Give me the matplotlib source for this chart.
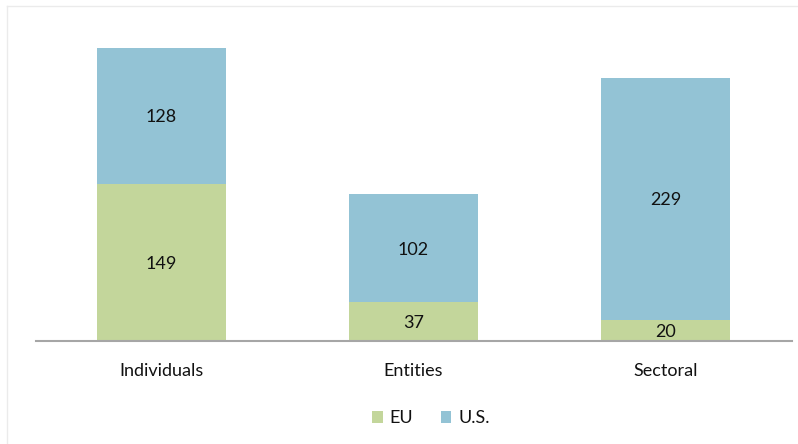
import matplotlib
matplotlib.use('Agg')
import matplotlib.pyplot as plt
import numpy as np

categories = ["Individuals", "Entities", "Sectoral"]
eu_values = [149, 37, 20]
us_values = [128, 102, 229]

green = "#C3D69B"
blue = "#93C3D5"
txt = "#111111"

plt.rcParams['font.family'] = ['Lato', 'DejaVu Sans']

fig = plt.figure(figsize=(7.98, 4.44), dpi=100)
ax = fig.add_axes([0.0445, 0.232, 0.9475, 0.714])

x = np.arange(len(categories))
eu = np.array(eu_values)
us = np.array(us_values)

b1 = ax.bar(x, eu, width=0.512, color=green, label="EU")
b2 = ax.bar(x, us, width=0.512, bottom=eu, color=blue, label="U.S.")

for rect, v in zip(b1, eu):
    ax.text(rect.get_x() + rect.get_width() / 2, v / 2, str(v),
            ha='center', va='center_baseline', fontsize=13, color=txt)
for rect, base, v in zip(b2, eu, us):
    ax.text(rect.get_x() + rect.get_width() / 2, base + v / 2, str(v),
            ha='center', va='center_baseline', fontsize=13, color=txt)

ax.set_xlim(-0.5, 2.5)
ax.set_ylim(0, 300)
ax.set_xticks(x)
ax.set_xticklabels(categories, fontsize=13, color=txt)
ax.tick_params(axis='x', length=0, pad=16)
ax.set_yticks([])
for s in ['top', 'right', 'left']:
    ax.spines[s].set_visible(False)
ax.spines['bottom'].set_color('#A6A6A6')
ax.spines['bottom'].set_linewidth(1.5)

leg = fig.legend(handles=[b1, b2], labels=["EU", "U.S."], loc='center',
                 bbox_to_anchor=(0.54, 0.058), ncol=2, frameon=False,
                 fontsize=13, handlelength=0.6, handleheight=0.6,
                 handletextpad=0.4, columnspacing=1.5)
for t in leg.get_texts():
    t.set_color(txt)

# faint outer frame (top and left edges)
fig.add_artist(plt.Line2D([0.009, 1.0], [0.987, 0.987], transform=fig.transFigure,
                          color='#EBEBEB', lw=1))
fig.add_artist(plt.Line2D([0.009, 0.009], [0.0, 0.987], transform=fig.transFigure,
                          color='#EBEBEB', lw=1))

fig.savefig("out.png", dpi=100)
